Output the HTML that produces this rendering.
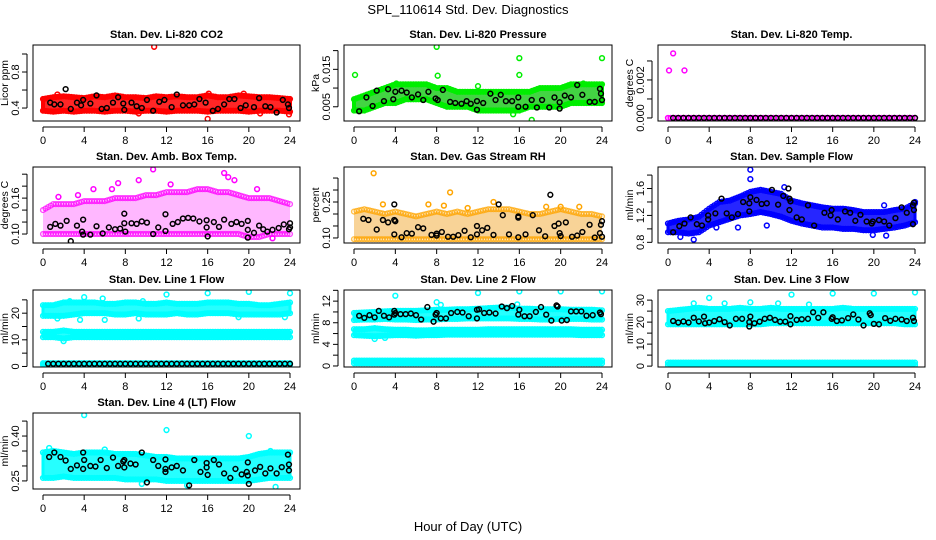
<!DOCTYPE html>
<html><head><meta charset="utf-8"><style>
html,body{margin:0;padding:0;background:#fff}
svg{display:block;font-family:"Liberation Sans",Arial,sans-serif}
</style></head><body>
<svg id="chart" width="936" height="540" viewBox="0 0 936 540" xmlns="http://www.w3.org/2000/svg">
<text x="468" y="14" text-anchor="middle" font-size="13">SPL_110614  Std. Dev. Diagnostics</text>
<text x="468" y="531" text-anchor="middle" font-size="13">Hour of Day (UTC)</text>
</svg>
<script>
const hours=[0,1,2,3,4,5,6,7,8,9,10,11,12,13,14,15,16,17,18,19,20,21,22,23,24];
const xTicks=[0,4,8,12,16,20,24];
// CO2
const co2Lo=[0.37,0.36,0.37,0.36,0.37,0.37,0.36,0.37,0.37,0.36,0.37,0.37,0.36,0.37,0.37,0.37,0.36,0.37,0.37,0.37,0.36,0.37,0.37,0.37,0.36];
const co2Hi=[0.50,0.52,0.53,0.52,0.51,0.53,0.52,0.54,0.52,0.52,0.51,0.53,0.52,0.53,0.52,0.52,0.54,0.52,0.52,0.54,0.53,0.52,0.52,0.51,0.50];
const co2Out=[[10.8,1.08],[16,0.28],[23.9,0.33],[9.3,0.34],[21.1,0.34],[1.4,0.55],[16.1,0.56],[19.5,0.56]];
const co2Blk=[[0.7,0.46],[1.1,0.44],[1.7,0.44],[2.2,0.61],[2.7,0.39],[3.3,0.46],[3.7,0.43],[3.9,0.49],[4.6,0.45],[5.2,0.54],[5.7,0.39],[6.2,0.40],[6.8,0.46],[7.3,0.52],[7.8,0.45],[7.9,0.38],[8.6,0.46],[9.1,0.42],[9.6,0.40],[10.1,0.49],[10.7,0.37],[11.3,0.47],[11.8,0.49],[12.5,0.41],[13,0.55],[13.6,0.43],[14.2,0.43],[14.7,0.44],[15.2,0.50],[15.8,0.46],[16.5,0.37],[17,0.39],[17.6,0.44],[18.1,0.50],[18.6,0.50],[19.2,0.40],[19.7,0.43],[20.5,0.41],[21,0.51],[21.6,0.42],[22.1,0.41],[22.7,0.35],[23.3,0.49],[23.8,0.44],[23.9,0.40]];
// Pressure
const prLo=[0.004,0.004,0.005,0.006,0.006,0.007,0.007,0.007,0.006,0.005,0.005,0.005,0.004,0.004,0.004,0.004,0.004,0.005,0.005,0.005,0.005,0.006,0.006,0.006,0.006];
const prHi=[0.007,0.008,0.009,0.010,0.011,0.011,0.011,0.011,0.010,0.010,0.009,0.009,0.009,0.009,0.009,0.009,0.009,0.009,0.010,0.010,0.010,0.011,0.011,0.011,0.011];
const prOut=[[0.1,0.0135],[8,0.021],[8.1,0.0133],[16,0.018],[16,0.0135],[24,0.018],[12,0.0105],[17.2,0.0015],[15.4,0.003],[4.1,0.0112],[22.2,0.0112]];
const prBlk=[[0.5,0.0038],[1.2,0.0075],[1.8,0.0052],[2.2,0.0093],[2.9,0.0065],[3.3,0.0097],[3.8,0.0070],[4,0.0090],[4.6,0.0093],[5.1,0.0088],[5.6,0.0075],[6.2,0.0083],[6.7,0.0068],[7.2,0.0090],[7.9,0.0072],[8.1,0.0068],[8.6,0.0095],[9.3,0.0063],[9.8,0.0060],[10.4,0.0058],[10.9,0.0065],[11.3,0.0058],[11.9,0.0065],[11.9,0.0042],[12.5,0.0060],[13.2,0.0085],[13.7,0.0068],[14.2,0.0082],[14.7,0.0065],[15.3,0.0065],[15.9,0.0075],[15.9,0.0050],[16.6,0.0050],[17.2,0.0068],[17.7,0.0048],[18.2,0.0068],[18.9,0.0048],[19.4,0.0075],[19.9,0.0062],[19.9,0.0045],[20.4,0.0080],[21,0.0075],[21.6,0.0108],[22.1,0.0082],[22.8,0.0063],[23.3,0.0063],[23.8,0.0098],[23.9,0.0085],[24,0.0068]];
// Li-820 Temp
const tpLo=[0,0,0,0,0,0,0,0,0,0,0,0,0,0,0,0,0,0,0,0,0,0,0,0,0];
const tpHi=[0,0,0,0,0,0,0,0,0,0,0,0,0,0,0,0,0,0,0,0,0,0,0,0,0];
const tpOut=[[0.1,0.0025],[0.5,0.0034],[1.6,0.0025]];
const tpBlk=[[0.5,0],[1,0],[1.5,0],[2,0],[2.5,0],[3,0],[3.5,0],[4,0],[4.5,0],[5,0],[5.5,0],[6,0],[6.5,0],[7,0],[7.5,0],[8,0],[8.5,0],[9,0],[9.5,0],[10,0],[10.5,0],[11,0],[11.5,0],[12,0],[12.5,0],[13,0],[13.5,0],[14,0],[14.5,0],[15,0],[15.5,0],[16,0],[16.5,0],[17,0],[17.5,0],[18,0],[18.5,0],[19,0],[19.5,0],[20,0],[20.5,0],[21,0],[21.5,0],[22,0],[22.5,0],[23,0],[23.5,0],[24,0]];
// Amb box temp
const abLo=[0.10,0.10,0.10,0.10,0.10,0.10,0.10,0.10,0.10,0.10,0.10,0.10,0.10,0.10,0.10,0.10,0.10,0.10,0.10,0.10,0.095,0.095,0.10,0.10,0.10];
const abHi=[0.14,0.15,0.15,0.15,0.155,0.155,0.155,0.16,0.16,0.16,0.165,0.165,0.17,0.17,0.17,0.175,0.175,0.17,0.17,0.165,0.16,0.16,0.16,0.155,0.15];
const abOut=[[1.5,0.162],[9.3,0.19],[10.7,0.208],[17.6,0.202],[18,0.195],[7.3,0.185],[12.4,0.183],[3.4,0.165],[6.7,0.175],[4.9,0.175],[18.6,0.19],[20.8,0.175],[22.3,0.093]];
const abBlk=[[0.7,0.112],[1.2,0.117],[1.7,0.114],[2.3,0.122],[2.7,0.088],[3.3,0.114],[3.8,0.104],[3.9,0.099],[3.9,0.124],[4.6,0.099],[5.2,0.113],[5.8,0.101],[6.4,0.111],[7,0.108],[7.5,0.109],[7.9,0.118],[8,0.104],[7.9,0.134],[8.6,0.118],[9.1,0.117],[9.6,0.121],[10.1,0.119],[10.7,0.100],[11.2,0.111],[11.9,0.105],[11.9,0.133],[12.6,0.117],[13.1,0.120],[13.6,0.126],[14.1,0.127],[14.6,0.126],[15.2,0.121],[15.9,0.123],[15.9,0.111],[16,0.096],[16.6,0.120],[17.1,0.112],[17.6,0.124],[18.3,0.117],[18.8,0.120],[19.3,0.117],[19.9,0.122],[19.9,0.107],[19.9,0.094],[20.5,0.102],[21,0.114],[21.4,0.108],[21.8,0.104],[22.3,0.107],[22.9,0.110],[23.4,0.116],[23.9,0.108],[24,0.118],[24,0.111]];
// Gas stream RH
const rhLo=[0.095,0.095,0.095,0.095,0.095,0.095,0.095,0.095,0.095,0.095,0.095,0.095,0.095,0.095,0.095,0.095,0.095,0.095,0.095,0.095,0.095,0.095,0.095,0.095,0.095];
const rhHi=[0.21,0.22,0.21,0.20,0.21,0.20,0.19,0.20,0.21,0.20,0.21,0.20,0.21,0.22,0.22,0.22,0.21,0.20,0.20,0.21,0.22,0.21,0.20,0.20,0.19];
const rhOut=[[1.9,0.37],[9.3,0.29],[2.8,0.24],[7.2,0.24],[13.5,0.25],[18.6,0.23],[20,0.23],[21.8,0.23],[8.7,0.235],[11,0.225]];
const rhBlk=[[0.9,0.18],[1.4,0.175],[2.2,0.135],[2.8,0.175],[3.3,0.165],[3.9,0.175],[3.9,0.24],[3.9,0.115],[4,0.17],[4.6,0.103],[5.1,0.12],[5.6,0.118],[6.2,0.145],[6.7,0.14],[7.5,0.113],[8,0.118],[8,0.11],[8.5,0.125],[9.1,0.105],[9.6,0.105],[10.1,0.112],[10.7,0.13],[11.3,0.103],[11.9,0.115],[11.9,0.15],[12.4,0.132],[12.9,0.142],[13.5,0.113],[14,0.24],[14.4,0.195],[15,0.115],[15.9,0.185],[15.9,0.19],[15.9,0.103],[16.6,0.115],[17.3,0.195],[17.9,0.132],[18.5,0.107],[19,0.28],[19.4,0.15],[19.8,0.16],[19.9,0.12],[20,0.108],[20.5,0.165],[21.1,0.105],[21.6,0.11],[22.1,0.125],[22.8,0.155],[23.3,0.102],[23.8,0.12],[23.9,0.155],[24,0.17],[24,0.105]];
// Sample flow
const sfLo=[0.95,0.95,0.93,0.95,1.05,1.1,1.15,1.2,1.22,1.25,1.22,1.18,1.12,1.08,1.05,1.02,1.02,1.00,1.0,0.98,0.98,1.0,1.02,1.05,1.1];
const sfHi=[1.08,1.12,1.14,1.18,1.3,1.4,1.42,1.48,1.55,1.58,1.55,1.52,1.42,1.38,1.35,1.32,1.3,1.3,1.28,1.25,1.25,1.25,1.28,1.3,1.38];
const sfOut=[[8,1.88],[8,1.74],[11.3,1.62],[1.2,0.88],[2.5,0.84],[6.8,1.02],[9.6,1.05],[19.9,0.91],[21.2,0.9],[21,1.35],[4.7,1.02],[24,1.4]];
const sfBlk=[[0.5,0.95],[1.1,1.04],[1.6,1.08],[2.2,1.17],[2.8,1.07],[3.3,1.05],[3.9,1.2],[3.9,1.14],[4.6,1.23],[5.2,1.45],[5.7,1.23],[6.2,1.17],[6.8,1.22],[7.3,1.40],[7.9,1.38],[7.9,1.26],[8,1.47],[8.6,1.43],[9.1,1.37],[9.6,1.38],[10.1,1.58],[10.7,1.36],[11.2,1.49],[11.7,1.60],[11.8,1.45],[11.9,1.41],[11.8,1.28],[12.5,1.17],[13,1.14],[13.6,1.35],[14.2,1.05],[15.2,1.24],[15.9,1.28],[15.8,1.20],[16.5,1.14],[17.2,1.26],[17.7,1.24],[18.2,1.12],[18.7,1.21],[19.3,1.11],[19.8,1.08],[19.9,1.11],[20.5,1.13],[21,1.11],[21.5,1.05],[22.1,1.16],[22.7,1.32],[23.2,1.24],[23.8,1.35],[23.9,1.39],[23.8,1.07],[23.9,1.28]];
// Line 1
const l1ALo=[19,19,19,19.5,20,20,20,19.5,19.5,20,19.5,19.5,19.5,20,19.5,19.5,20,20,20,19.5,19.5,19.5,19.5,19.5,20];
const l1AHi=[23,23,24,24,24,24,23.5,23.5,24,24,23.5,23.5,24,23.5,23.5,23.5,24,24,24,23.5,23.5,23,23,23.5,24];
const l1BLo=[11,11,10.5,11,11,11,11,11,11,11,11,11,11,11,11,11,11,11,11,11,11,11,11,11,11];
const l1BHi=[13,13,13.5,13,13,13,13,13,13,13,13,13,13,13,13,13,13,13,13,13,13,13,13,13,13];
const l1CLo=[0.6,0.6,0.6,0.6,0.6,0.6,0.6,0.6,0.6,0.6,0.6,0.6,0.6,0.6,0.6,0.6,0.6,0.6,0.6,0.6,0.6,0.6,0.6,0.6,0.6];
const l1CHi=[1.2,1.2,1.2,1.2,1.2,1.2,1.2,1.2,1.2,1.2,1.2,1.2,1.2,1.2,1.2,1.2,1.2,1.2,1.2,1.2,1.2,1.2,1.2,1.2,1.2];
const l1Out=[[4,26],[5.8,25.5],[12,27],[16,27.5],[20,28],[24,27.5],[1.4,18],[3.6,17.5],[6,17.5],[9.3,18],[19,18.5],[23.5,18.5],[2,9.5],[2.6,24.5],[9.7,24.5],[0.1,1]];
const l1Blk=tpBlk.map(p=>[p[0],1]);
// Line 2
const l2ALo=[8.5,8.6,8.6,8.7,8.6,8.6,8.5,8.6,8.6,8.7,8.7,8.8,8.8,8.8,8.8,8.8,8.7,8.7,8.6,8.6,8.7,8.7,8.7,8.6,8.6];
const l2AHi=[9.8,9.9,10,10.1,10.2,10.2,10.2,10.3,10.4,10.4,10.5,10.5,10.6,10.7,10.8,10.8,10.6,10.6,10.5,10.5,10.5,10.4,10.4,10.4,10.3];
const l2BLo=[5.7,5.6,5.5,5.6,5.7,5.7,5.6,5.7,5.7,5.8,5.8,5.8,5.8,5.8,5.8,5.8,5.8,5.8,5.8,5.8,5.8,5.8,5.7,5.7,5.7];
const l2BHi=[6.8,6.8,7,6.8,6.7,6.7,6.6,6.6,6.7,6.7,6.7,6.7,6.7,6.8,6.8,6.8,6.8,6.8,6.8,6.8,6.8,6.8,6.7,6.7,6.7];
const l2CLo=[0.5,0.5,0.5,0.5,0.5,0.5,0.5,0.5,0.5,0.5,0.5,0.5,0.5,0.5,0.5,0.5,0.5,0.5,0.5,0.5,0.5,0.5,0.5,0.5,0.5];
const l2CHi=[1,1,1,1,1,1,1,1,1,1,1,1,1,1,1,1,1,1,1,1,1,1,1,1,1];
const l2Out=[[4,13],[8,11.8],[12,13.5],[16,13.8],[20,13.8],[24,13.8],[2,5],[3,5.2],[8.4,11.3],[15.8,11.4]];
const l2Blk=[[0.5,9.3],[1.0,8.9],[1.5,9.4],[2,9.0],[2.4,10.2],[2.9,9.3],[3.4,9.0],[3.9,10.2],[3.9,9.5],[4,9.8],[4.5,9.6],[5,9.6],[5.5,9.7],[6,9.4],[6.5,8.6],[7.1,10.9],[7.7,8.2],[7.9,9.5],[8,9.8],[8.4,8.8],[8.9,8.8],[9.4,9.8],[10,10],[10.5,9.9],[11.1,9.2],[11.9,8.8],[11.9,10.4],[12.1,10.5],[12.6,9.8],[13.1,9.9],[13.7,9.7],[14.3,11],[14.8,10.7],[15.3,11.1],[15.9,9.5],[16,10.4],[16.5,9.2],[17,9.2],[17.6,10.0],[18.1,10.9],[18.6,9.5],[19.1,8.4],[19.6,11.2],[19.7,11.0],[20.1,8.4],[20.6,8.5],[21,10.1],[21.5,10.1],[22,10.1],[22.5,9.3],[23.1,9.4],[23.8,9.9],[23.9,9.6]];
// Line 3
const l3ALo=[19,19,19,19,19,19,19,19,19,19,19.5,19.5,19.5,19.5,19.5,19.5,19.5,19.5,19.5,19.5,19.5,19.5,19.5,19,19];
const l3AHi=[25,25.5,26,26.5,26,26,26,26.5,26,26,26.5,26,26,26,26,26,26,26.5,26,26,26,26,26,26,26];
const l3CLo=[0.5,0.5,0.5,0.5,0.5,0.5,0.5,0.5,0.5,0.5,0.5,0.5,0.5,0.5,0.5,0.5,0.5,0.5,0.5,0.5,0.5,0.5,0.5,0.5,0.5];
const l3CHi=[1.6,1.6,1.6,1.6,1.6,1.6,1.6,1.6,1.6,1.6,1.6,1.6,1.6,1.6,1.6,1.6,1.6,1.6,1.6,1.6,1.6,1.6,1.6,1.6,1.6];
const l3Out=[[4,31],[8,29],[12,32.5],[16,33],[20,33],[24,33.5],[2.5,28.5],[5.5,28.5],[10.7,28.5],[13.7,28]];
const l3Blk=[[0.5,20.5],[1,19.8],[1.5,20.3],[2,19.8],[2.5,22],[3,20.3],[3.5,22.5],[3.6,19.5],[4,19.8],[4.5,20.5],[5,21.3],[5.5,20],[6,18.5],[6.6,21.5],[7.2,21.5],[7.9,20],[7.9,18],[8,22.5],[8.4,19.5],[8.9,20.2],[9.4,21.5],[9.9,22],[10.4,21],[10.9,20.2],[11.4,20.2],[11.9,19],[11.9,22.7],[12.5,21],[13,21.3],[13.6,21.5],[14.1,24.5],[14.6,22],[15.1,24.5],[15.9,21.5],[16,22.2],[16.4,20.5],[16.9,20.8],[17.5,21.8],[18,23.5],[18.5,21.2],[19,18.5],[19.6,24],[19.7,23.2],[20,19.2],[20.5,19],[21.1,21.8],[21.6,20.6],[22.1,21.5],[22.7,21.2],[23.2,20.5],[23.8,22],[23.9,20.5]];
// Line 4
const l4Lo=[0.26,0.26,0.265,0.26,0.26,0.26,0.26,0.26,0.255,0.255,0.255,0.255,0.25,0.25,0.25,0.25,0.25,0.25,0.25,0.25,0.25,0.255,0.26,0.26,0.26];
const l4Hi=[0.345,0.35,0.345,0.34,0.345,0.345,0.345,0.34,0.34,0.34,0.335,0.33,0.33,0.325,0.325,0.325,0.325,0.325,0.325,0.325,0.33,0.34,0.345,0.345,0.345];
const l4Out=[[4,0.47],[12,0.42],[20,0.40],[22.6,0.23],[14,0.235],[9.6,0.24],[0.6,0.36],[6,0.355],[22.1,0.35]];
const l4Blk=[[0.6,0.33],[1.1,0.345],[1.7,0.33],[2.2,0.318],[2.7,0.29],[3.3,0.302],[3.9,0.345],[3.9,0.29],[4,0.32],[4.6,0.3],[5.1,0.298],[5.6,0.32],[6.2,0.293],[6.8,0.328],[7.3,0.3],[7.8,0.315],[7.9,0.295],[7.9,0.32],[8.5,0.308],[9,0.305],[9.6,0.345],[10.1,0.245],[10.7,0.32],[11.2,0.3],[11.9,0.28],[11.9,0.29],[11.9,0.322],[12.5,0.295],[13,0.3],[13.6,0.285],[14.2,0.235],[14.7,0.32],[15.3,0.28],[15.9,0.31],[15.9,0.295],[16,0.27],[16.6,0.32],[17.1,0.305],[17.6,0.275],[18.2,0.26],[18.7,0.29],[19.3,0.272],[19.8,0.28],[19.9,0.268],[19.9,0.312],[20,0.24],[20.6,0.285],[21.1,0.297],[21.6,0.275],[22.1,0.292],[22.7,0.275],[23.2,0.296],[23.8,0.338],[23.9,0.305],[23.9,0.285]];

const SVGNS="http://www.w3.org/2000/svg";
const svg=document.getElementById('chart');
const colL=[33,344,658], colR=[300,612,925], rowT=[45,167,290,413], rowB=[121,243,367,489];
function mk(tag,attrs,parent){const e=document.createElementNS(SVGNS,tag);for(const k in attrs)e.setAttribute(k,attrs[k]);(parent||svg).appendChild(e);return e;}

const panels=[
 {key:'co2',title:'Stan. Dev. Li-820 CO2',col:0,row:0,ylim:[0.256,1.1],ticks:[0.4,0.6,0.8,1.0],labels:[[0.4,'0.4'],[0.8,'0.8']],ylab:'Licor ppm',color:'#ff0000',fill:'#ff0000',op:1,sw:4,bands:[[co2Lo,co2Hi]],out:co2Out,blk:co2Blk},
 {key:'pressure',title:'Stan. Dev. Li-820 Pressure',col:1,row:0,ylim:[0.0012,0.0215],ticks:[0.005,0.01,0.015,0.02],labels:[[0.005,'0.005'],[0.015,'0.015']],ylab:'kPa',color:'#00ee00',fill:'#22cc22',op:1,sw:4,bands:[[prLo,prHi]],out:prOut,blk:prBlk},
 {key:'li820-temp',title:'Stan. Dev. Li-820 Temp.',col:2,row:0,ylim:[-0.00016,0.00384],ticks:[0,0.001,0.002,0.003],labels:[[0,'0.000'],[0.002,'0.002']],ylab:'degrees C',color:'#ff00ff',fill:'#ff00ff',op:1,sw:0,bands:[[tpLo,tpHi]],out:tpOut,blk:tpBlk},
 {key:'amb-box-temp',title:'Stan. Dev. Amb. Box Temp.',col:0,row:1,ylim:[0.085,0.212],ticks:[0.10,0.12,0.14,0.16,0.18,0.20],labels:[[0.10,'0.10'],[0.16,'0.16']],ylab:'degrees C',color:'#ff00ff',fill:'#ff44ff',op:0.45,sw:0,bands:[[abLo,abHi]],out:abOut,blk:abBlk},
 {key:'gas-rh',title:'Stan. Dev. Gas Stream RH',col:1,row:1,ylim:[0.079,0.396],ticks:[0.10,0.15,0.20,0.25,0.30,0.35],labels:[[0.10,'0.10'],[0.25,'0.25']],ylab:'percent',color:'#ffa500',fill:'#f0a020',op:0.55,sw:0,bands:[[rhLo,rhHi]],out:rhOut,blk:rhBlk},
 {key:'sample-flow',title:'Stan. Dev. Sample Flow',col:2,row:1,ylim:[0.79,1.92],ticks:[0.8,1.0,1.2,1.4,1.6,1.8],labels:[[0.8,'0.8'],[1.2,'1.2'],[1.6,'1.6']],ylab:'ml/min',color:'#0000ff',fill:'#0000ff',op:1,sw:3,bands:[[sfLo,sfHi]],out:sfOut,blk:sfBlk},
 {key:'line1-flow',title:'Stan. Dev. Line 1 Flow',col:0,row:2,ylim:[-0.2,28.7],ticks:[0,5,10,15,20,25],labels:[[0,'0'],[10,'10'],[20,'20']],ylab:'ml/min',color:'#00ffff',fill:'#00ffff',op:1,sw:3,bands:[[l1ALo,l1AHi],[l1BLo,l1BHi],[l1CLo,l1CHi]],out:l1Out,blk:l1Blk},
 {key:'line2-flow',title:'Stan. Dev. Line 2 Flow',col:1,row:2,ylim:[-0.19,14.06],ticks:[0,2,4,6,8,10,12,14],labels:[[0,'0'],[4,'4'],[8,'8'],[12,'12']],ylab:'ml/min',color:'#00ffff',fill:'#00ffff',op:1,sw:3,bands:[[l2ALo,l2AHi],[l2BLo,l2BHi],[l2CLo,l2CHi]],out:l2Out,blk:l2Blk},
 {key:'line3-flow',title:'Stan. Dev. Line 3 Flow',col:2,row:2,ylim:[-0.4,34.6],ticks:[0,5,10,15,20,25,30],labels:[[0,'0'],[10,'10'],[20,'20'],[30,'30']],ylab:'ml/min',color:'#00ffff',fill:'#00ffff',op:1,sw:3,bands:[[l3ALo,l3AHi],[l3CLo,l3CHi]],out:l3Out,blk:l3Blk},
 {key:'line4-flow',title:'Stan. Dev. Line 4 (LT) Flow',col:0,row:3,ylim:[0.223,0.477],ticks:[0.25,0.30,0.35,0.40,0.45],labels:[[0.25,'0.25'],[0.40,'0.40']],ylab:'ml/min',color:'#00ffff',fill:'#00ffff',op:1,sw:3,bands:[[l4Lo,l4Hi]],out:l4Out,blk:l4Blk}
];

function interp(arr,h){const i=Math.min(Math.floor(h),23);const t=h-i;return arr[i]*(1-t)+arr[i+1]*t;}

panels.forEach(p=>{
 const L=colL[p.col],R=colR[p.col],T=rowT[p.row],B=rowB[p.row];
 const xs=h=>L+10+(R-L-20)*h/24;
 const ys=v=>B-(v-p.ylim[0])/(p.ylim[1]-p.ylim[0])*(B-T);
 const g=mk('g',{});
 
 
 const cp=mk('clipPath',{id:'cp-'+p.key},g);mk('rect',{x:L,y:T,width:R-L,height:B-T},cp);
 const t=mk('text',{x:(L+R)/2,y:T-7,'text-anchor':'middle','font-size':11,'font-weight':'bold'},g);t.textContent=p.title;
 
 
 const marks=mk('g',{'clip-path':'url(#cp-'+p.key+')'},g);
 
 
 p.bands.forEach(([lo,hi])=>{
  let pts=hours.map((h,i)=>xs(h)+','+ys(hi[i]));
  pts=pts.concat(hours.slice().reverse().map(h=>xs(h)+','+ys(lo[h])));
  const poly=mk('polygon',{points:pts.join(' '),fill:p.fill,'fill-opacity':p.op*0.85,stroke:p.color,'stroke-width':p.sw,'stroke-linejoin':'round','stroke-opacity':p.sw?p.op:0},marks);
  
  
  for(let q=0;q<=96;q++){const h=q/4;
   [interp(lo,h),interp(hi,h)].forEach(v=>{
    const c=mk('circle',{cx:xs(h),cy:ys(v),r:2.4,fill:'none',stroke:p.color,'stroke-width':1.4,'stroke-opacity':p.op<1?0.7:1},marks);
    
    
   });}
 });
 p.out.forEach(([h,v])=>{
  const c=mk('circle',{cx:xs(h),cy:ys(v),r:2.4,fill:'none',stroke:p.color,'stroke-width':1.5},marks);
  
  
 });
 p.blk.forEach(([h,v])=>{
  const c=mk('circle',{cx:xs(h),cy:ys(v),r:2.4,fill:'none',stroke:'#000','stroke-width':1.5},marks);
  
  
 });
 const box=mk('rect',{x:L,y:T,width:R-L,height:B-T,fill:'none',stroke:'#000','stroke-width':1},g);
 
 
 const xa=mk('g',{},g);
 
 
 mk('line',{x1:xs(0),x2:xs(24),y1:B+6,y2:B+6,stroke:'#000'},xa);
 xTicks.forEach(h=>{mk('line',{x1:xs(h),x2:xs(h),y1:B+6,y2:B+11,stroke:'#000'},xa);
  const tl=mk('text',{x:xs(h),y:B+23,'text-anchor':'middle','font-size':11},xa);tl.textContent=h;});
 const ya=mk('g',{},g);
 
 
 const y0=ys(p.ticks[0]),y1=ys(p.ticks[p.ticks.length-1]);
 mk('line',{x1:L-6,x2:L-6,y1:y0,y2:y1,stroke:'#000'},ya);
 p.ticks.forEach(v=>mk('line',{x1:L-11,x2:L-6,y1:ys(v),y2:ys(v),stroke:'#000'},ya));
 p.labels.forEach(([v,s])=>{const tl=mk('text',{x:0,y:0,'text-anchor':'middle','font-size':11,transform:'translate('+(L-14)+','+ys(v)+') rotate(-90)'},ya);tl.textContent=s;});
 const yl=mk('text',{x:0,y:0,'text-anchor':'middle','font-size':10.5,transform:'translate('+(L-25)+','+((T+B)/2)+') rotate(-90)'},g);yl.textContent=p.ylab;
 
 
});
</script>
</body></html>
